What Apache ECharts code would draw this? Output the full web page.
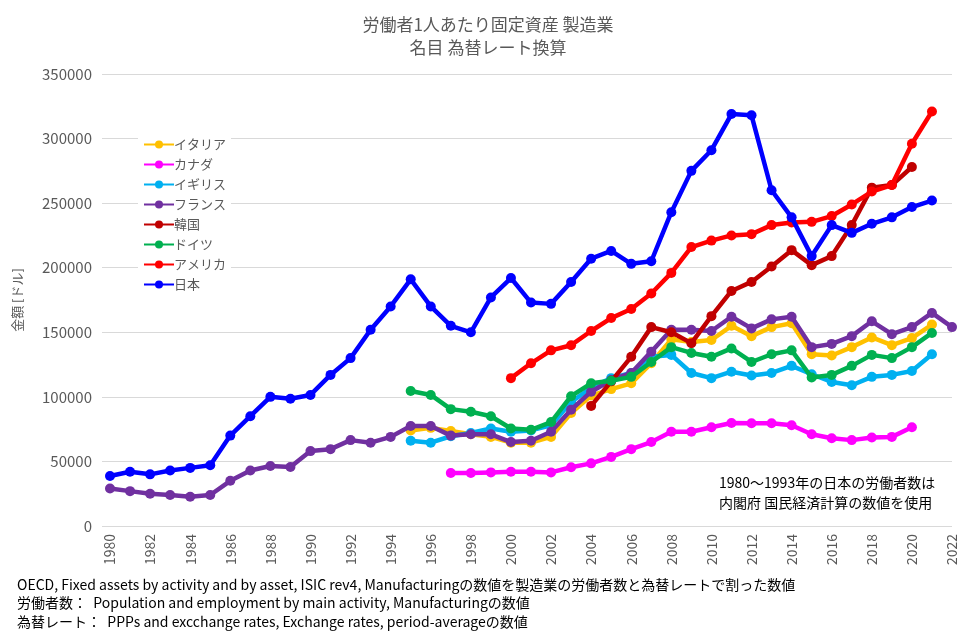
<!DOCTYPE html>
<html><head><meta charset="utf-8">
<script src="https://cdn.jsdelivr.net/npm/echarts@6/dist/echarts.min.js"></script>
<style>html,body{margin:0;padding:0;background:#fff}#c{width:976px;height:637px}</style>
</head><body><div id="c"></div>
<script>
const years = [];
for (let y = 1980; y <= 2022; y++) years.push(String(y));
const titleLines = ['労働者1人あたり固定資産 製造業', '名目 為替レート換算'];
const yTicks = [0, 50000, 100000, 150000, 200000, 250000, 300000, 350000];

const italy = [null,null,null,null,null,null,null,null,null,null,null,null,null,null,null,
  74000,76000,73500,71000,69000,64500,64500,69000,87500,101000,106000,110500,126000,144500,142500,144000,155000,147000,154000,157000,133000,132000,138500,146000,140000,145500,156000,null];
const canada = [null,null,null,null,null,null,null,null,null,null,null,null,null,null,null,null,null,
  41000,41000,41500,42000,42000,41500,45500,48500,53500,59500,65000,73000,73000,76500,79700,79500,79500,78000,71000,68000,66500,68500,69000,76500,null,null];
const uk = [null,null,null,null,null,null,null,null,null,null,null,null,null,null,null,
  66000,64500,69500,72000,75500,73000,74000,78000,96000,107000,114500,118500,131000,132500,118500,114500,119500,116500,118500,124000,117500,111500,109000,115500,117000,120000,133000,null];
const france = [29000,27000,25000,24000,22700,24000,35000,43000,46500,45700,58000,59500,66500,64500,69000,77500,77500,70000,71000,71000,65000,66000,73000,90000,104000,113000,118500,135000,152000,152000,151000,162000,153000,160000,162000,138500,141000,147000,158500,148500,154000,165000,154000];
const korea = [null,null,null,null,null,null,null,null,null,null,null,null,null,null,null,null,null,null,null,null,null,null,null,null,
  93000,112000,131000,154000,150000,141600,162500,182000,189000,201000,213600,202000,209000,233000,262000,264000,278000,null,null];
const germany = [null,null,null,null,null,null,null,null,null,null,null,null,null,null,null,
  104500,101500,90500,88500,85000,75500,74500,80500,100500,110500,112500,115500,127000,138500,134000,131000,137500,127000,133000,136000,115000,117000,124000,132500,130000,138500,149500,null];
const usa = [null,null,null,null,null,null,null,null,null,null,null,null,null,null,null,null,null,null,null,null,
  114500,126000,136000,140000,151000,161000,168000,180000,196000,216000,221000,225000,226000,233000,235000,235500,240000,249000,259000,264000,296000,321000,null];
const japan = [38700,42000,40000,43000,45000,47000,70000,85000,100000,98500,101500,117000,130000,152000,170000,191000,170000,155000,150000,177000,192000,173000,172000,189000,207000,213000,203000,205000,243000,275000,291000,319000,318000,260000,239000,209000,233000,227000,234000,239000,247000,252000,null];

const seriesNames = ['イタリア','カナダ','イギリス','フランス','韓国','ドイツ','アメリカ','日本'];
const seriesData = [italy, canada, uk, france, korea, germany, usa, japan];
const seriesColors = ['#FFC000','#FF00FF','#00B0F0','#7030A0','#C00000','#00B050','#FF0000','#0000FF'];

const noteLines = ['1980～1993年の日本の労働者数は', '内閣府 国民経済計算の数値を使用'];
const sourceLines = [
  'OECD, Fixed assets by activity and by asset, ISIC rev4, Manufacturingの数値を製造業の労働者数と為替レートで割った数値',
  '労働者数：  Population and employment by main activity, Manufacturingの数値',
  '為替レート：  PPPs and excchange rates, Exchange rates, period-averageの数値'
];

const FONT = '"Noto Sans CJK JP", "Noto Sans", sans-serif';
const chart = echarts.init(document.getElementById('c'), null, {renderer: 'canvas'});
chart.setOption({
  backgroundColor: '#ffffff',
  animation: false,
  textStyle: {fontFamily: FONT},
  title: {
    text: titleLines.join('\n'),
    left: 'center', top: 8,
    textStyle: {fontSize: 17, fontWeight: 'normal', color: '#595959', lineHeight: 23, fontFamily: FONT}
  },
  legend: {
    orient: 'vertical', left: 138, top: 133,
    padding: 5, backgroundColor: '#ffffff',
    itemWidth: 30, itemHeight: 10, itemGap: 7,
    textStyle: {fontSize: 13, color: '#595959', fontFamily: FONT, padding: [0,0,0,-5]},
    data: seriesNames
  },
  grid: {left: 110, right: 24, top: 74, bottom: 111, containLabel: false},
  xAxis: {
    type: 'category', data: years, boundaryGap: false,
    axisLine: {show: false},
    axisTick: {show: false},
    axisLabel: {interval: 1, rotate: 90, fontSize: 14, color: '#595959', margin: 8, fontFamily: FONT},
    splitLine: {show: false}
  },
  yAxis: {
    type: 'value', min: 0, max: 350000, interval: 50000,
    name: '金額 [ドル]', nameLocation: 'middle', nameGap: 86, nameRotate: 90,
    nameTextStyle: {fontSize: 13, color: '#595959', fontFamily: FONT},
    axisLine: {show: false},
    axisTick: {show: true, length: 8, lineStyle: {color: '#d9d9d9'}},
    axisLabel: {fontSize: 15, color: '#595959', margin: 18, fontFamily: FONT, formatter: v => String(v)},
    splitLine: {lineStyle: {color: '#d9d9d9', width: 1}}
  },
  graphic: [
    {type: 'text', left: 719, top: 473, style: {text: noteLines.join('\n'), fontSize: 14, lineHeight: 20, fill: '#000', fontFamily: FONT}},
    {type: 'text', left: 17, top: 575, style: {text: sourceLines.join('\n'), fontSize: 14, lineHeight: 18.5, fill: '#000', fontFamily: FONT}}
  ],
  series: seriesNames.map((n, i) => ({
    name: n, type: 'line', data: seriesData[i],
    symbol: 'circle', symbolSize: 10, showSymbol: true,
    connectNulls: false,
    lineStyle: {width: 4.5, color: seriesColors[i]},
    itemStyle: {color: seriesColors[i]},
    z: 2 + i
  }))
});
</script></body></html>
